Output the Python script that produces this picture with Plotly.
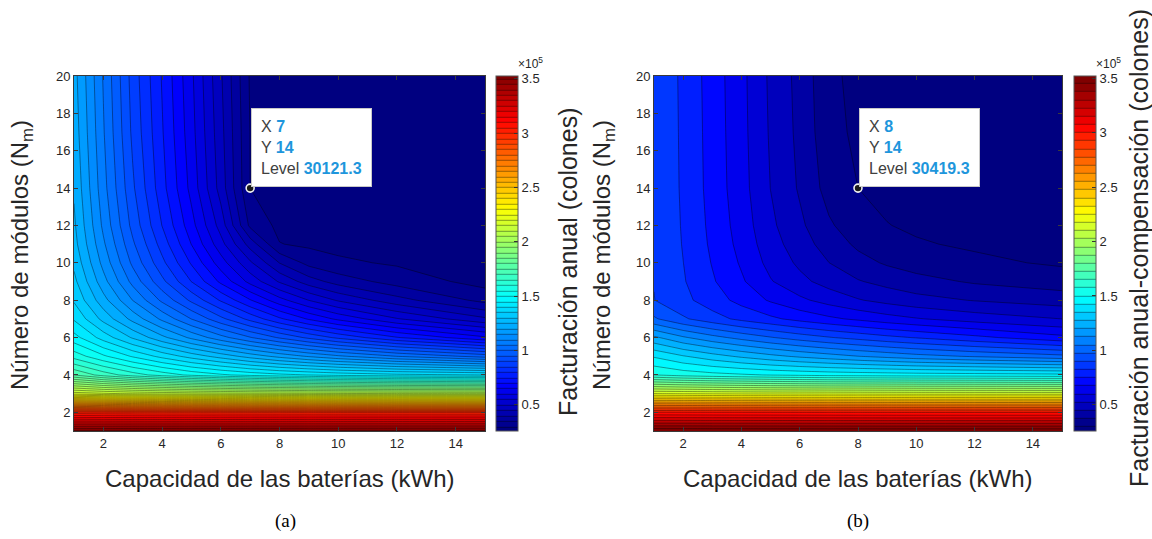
import plotly.graph_objects as go

# ---------------- data ----------------
x_kwh = [1, 2, 3, 4, 5, 6, 7, 8, 9, 10, 12, 15]
y_modules = [1, 2, 3, 4, 5, 6, 7, 8, 9, 10, 11, 12, 14, 17, 20]

# (a) Facturación anual (colones); rows follow y_modules, columns follow x_kwh
z_a = [
    [352000, 352000, 351900, 351900, 351800, 351800, 351700, 351700, 351600, 351600, 351500, 351500],
    [301500, 301000, 300700, 300500, 300400, 300300, 300200, 300100, 300000, 300000, 300000, 300000],
    [218000, 216000, 214500, 213500, 212800, 212200, 211700, 211300, 211000, 210700, 210300, 210000],
    [175000, 168000, 162500, 158000, 154000, 151000, 148500, 146500, 145000, 143500, 141500, 140000],
    [158000, 151000, 144500, 138500, 133000, 128000, 123000, 118500, 114500, 111000, 105000, 98000],
    [147000, 138000, 129500, 121500, 114000, 107000, 100500, 94500, 89000, 84000, 75500, 66000],
    [139500, 128500, 118500, 109000, 100000, 91500, 83500, 76000, 69500, 64000, 55500, 46000],
    [134500, 122000, 110000, 99000, 89000, 79500, 70500, 62000, 55000, 49500, 42000, 33500],
    [131500, 117000, 103500, 91500, 80000, 69000, 58500, 49500, 42500, 38000, 33000, 28300],
    [129000, 113500, 99000, 86500, 74500, 62500, 51000, 40000, 33500, 31000, 29500, 28000],
    [127000, 111000, 96000, 83000, 70000, 57000, 43000, 30300, 29200, 28700, 28200, 27800],
    [126000, 109000, 93500, 80000, 67000, 53000, 34000, 28800, 28500, 28100, 27800, 27600],
    [124500, 107000, 91000, 77000, 63500, 48000, 30121.3, 28600, 28100, 27800, 27500, 27400],
    [123000, 105600, 89000, 75600, 62000, 46800, 30000, 28400, 28000, 27700, 27400, 27200],
    [122000, 104700, 88000, 74700, 61100, 45800, 29500, 28300, 27900, 27600, 27300, 27000],
]

# (b) Facturación anual-compensación (colones)
z_b = [
    [352000, 352000, 351900, 351900, 351800, 351800, 351700, 351700, 351600, 351600, 351500, 351500],
    [301000, 300800, 300600, 300500, 300400, 300300, 300200, 300100, 300000, 300000, 300000, 300000],
    [218000, 217500, 217000, 216500, 216200, 216000, 215800, 215600, 215400, 215200, 215100, 215000],
    [158000, 155000, 153000, 151500, 150000, 149000, 148000, 147500, 147000, 146500, 146000, 145000],
    [142000, 136000, 131000, 126500, 122500, 119000, 116000, 113000, 110500, 108000, 104500, 100000],
    [122000, 114000, 108000, 103000, 98500, 94500, 91000, 88000, 85000, 82500, 77500, 70000],
    [99000, 91500, 86000, 81000, 77000, 73000, 69500, 66500, 63500, 61000, 57000, 52900],
    [90600, 85000, 79000, 73000, 67000, 62000, 57500, 53500, 50500, 48000, 45000, 42000],
    [90200, 83600, 76300, 69000, 61000, 55000, 50000, 46000, 43000, 40500, 37000, 34000],
    [90100, 83000, 75000, 67000, 58000, 51500, 45500, 40500, 37000, 34500, 31800, 29500],
    [90000, 82500, 74000, 65500, 56000, 49000, 42000, 36500, 33000, 31000, 29500, 29000],
    [89900, 82200, 73400, 64500, 54500, 47000, 39000, 33500, 30600, 29500, 28700, 28200],
    [89800, 81800, 72600, 63300, 52800, 44500, 35000, 30419.3, 28800, 28200, 27600, 27200],
    [89700, 81600, 72300, 62800, 52000, 43500, 32800, 29000, 28100, 27600, 27200, 27000],
    [89600, 81400, 72000, 62500, 51500, 43000, 32000, 28500, 27800, 27400, 27000, 26800],
]

# data tips
tip_a = {"x": 7, "y": 14, "level": "30121.3"}
tip_b = {"x": 8, "y": 14, "level": "30419.3"}

# contour levels
levels_a = {"start": 30121.3, "end": 350121.3, "size": 5000}
levels_b = {"start": 30419.3, "end": 352919.3, "size": 7500}

# colour limits and tick labels
z_min, z_max = 26000, 352000
cbar_tickvals = [50000, 100000, 150000, 200000, 250000, 300000, 350000]
cbar_ticktext = ["0.5", "1", "1.5", "2", "2.5", "3", "3.5"]
x_ticks = [2, 4, 6, 8, 10, 12, 14]
y_ticks = [2, 4, 6, 8, 10, 12, 14, 16, 18, 20]

x_title = "Capacidad de las baterías (kWh)"
y_title = "Número de módulos (N<sub>m</sub>)"
cbar_title_a = "Facturación anual (colones)"
cbar_title_b = "Facturación anual-compensación (colones)"

# ---------------- style ----------------
W, H = 1152, 539
SANS = "Liberation Sans, Arial, Helvetica, sans-serif"
SERIF = "Liberation Serif, Times New Roman, serif"
TXT = "#262626"
TIPBLUE = "#1E96DC"

jet = [
    [0.0, "rgb(0,0,128)"],
    [0.125, "rgb(0,0,255)"],
    [0.375, "rgb(0,255,255)"],
    [0.625, "rgb(255,255,0)"],
    [0.875, "rgb(255,0,0)"],
    [1.0, "rgb(128,0,0)"],
]

# pixel geometry
plot_top, plot_bot = 76, 431
ax_a = (74, 485)
ax_b = (654, 1062)
cb_a_left = 496
cb_b_left = 1074


def px(xp):
    return xp / W


def py(yp):
    return 1 - yp / H


fig = go.Figure()


def add_panel(z, levels, xa, ya, cb_left):
    fig.add_trace(go.Contour(
        x=x_kwh, y=y_modules, z=z,
        xaxis=xa, yaxis=ya,
        colorscale=jet, zmin=z_min, zmax=z_max, zauto=False,
        contours=dict(coloring="fill", showlines=True,
                      start=levels["start"], end=levels["end"], size=levels["size"]),
        line=dict(color="rgba(0,0,0,0.65)", width=0.6, smoothing=0),
        colorbar=dict(
            x=px(cb_left), xanchor="left", xpad=0,
            y=py(plot_bot), yanchor="bottom", ypad=0,
            len=(plot_bot - plot_top) / H, lenmode="fraction",
            thickness=22, thicknessmode="pixels",
            tickvals=cbar_tickvals, ticktext=cbar_ticktext,
            ticks="inside", ticklen=4, tickcolor="#333",
            tickfont=dict(family=SANS, size=13, color=TXT),
            outlinewidth=1, outlinecolor="#555",
        ),
        hoverinfo="skip",
    ))


add_panel(z_a, levels_a, "x", "y", cb_a_left)
add_panel(z_b, levels_b, "x2", "y2", cb_b_left)

# data tip markers
for tip, xa, ya in [(tip_a, "x", "y"), (tip_b, "x2", "y2")]:
    fig.add_trace(go.Scatter(
        x=[tip["x"]], y=[tip["y"]], xaxis=xa, yaxis=ya, mode="markers",
        marker=dict(size=8, color="#1a1a1a", line=dict(color="#f0f0f0", width=1.6)),
        showlegend=False, hoverinfo="skip",
    ))

axis_common = dict(
    showgrid=False, zeroline=False, showline=True, mirror="ticks",
    linecolor="#3a3a3a", linewidth=0.8, ticks="inside", ticklen=4,
    tickcolor="#3a3a3a", tickfont=dict(family=SANS, size=13, color=TXT),
)

fig.update_layout(
    width=W, height=H,
    margin=dict(l=0, r=0, t=0, b=0, autoexpand=False),
    paper_bgcolor="white", plot_bgcolor="white",
    showlegend=False,
    xaxis=dict(domain=[px(ax_a[0]), px(ax_a[1])], range=[1, 15], tickvals=x_ticks,
               anchor="y", **axis_common),
    yaxis=dict(domain=[py(plot_bot), py(plot_top)], range=[1, 20], tickvals=y_ticks,
               anchor="x", **axis_common),
    xaxis2=dict(domain=[px(ax_b[0]), px(ax_b[1])], range=[1, 15], tickvals=x_ticks,
                anchor="y2", **axis_common),
    yaxis2=dict(domain=[py(plot_bot), py(plot_top)], range=[1, 20], tickvals=y_ticks,
                anchor="x2", **axis_common),
)

ann = []


def tip_text(tip):
    v = lambda s: f"<b><span style='color:{TIPBLUE}'>{s}</span></b>"
    return f"X {v(tip['x'])}<br>Y {v(tip['y'])}<br>Level {v(tip['level'])}"


for tip, xa, ya in [(tip_a, "x", "y"), (tip_b, "x2", "y2")]:
    ann.append(dict(
        x=tip["x"], y=tip["y"], xref=xa, yref=ya, text=tip_text(tip),
        showarrow=False, xanchor="left", yanchor="bottom", align="left",
        xshift=1, yshift=1,
        font=dict(family=SANS, size=16, color="#404040"),
        bgcolor="white", bordercolor="#c8c8c8", borderwidth=1, borderpad=9,
    ))

for xc, ycb, cbt, cbx, yx, lab, labx in [
    ((ax_a[0] + ax_a[1]) / 2, 262, cbar_title_a, 568, 22, "(a)", 285),
    ((ax_b[0] + ax_b[1]) / 2, 248, cbar_title_b, 1139, 604, "(b)", 858),
]:
    ann.append(dict(x=px(xc), y=py(478), xref="paper", yref="paper", text=x_title,
                    showarrow=False, xanchor="center", yanchor="middle",
                    font=dict(family=SANS, size=24, color=TXT)))
    ann.append(dict(x=px(yx), y=py(255), xref="paper", yref="paper", text=y_title,
                    showarrow=False, xanchor="center", yanchor="middle", textangle=-90,
                    font=dict(family=SANS, size=24, color=TXT)))
    ann.append(dict(x=px(cbx), y=py(ycb), xref="paper", yref="paper", text=cbt,
                    showarrow=False, xanchor="center", yanchor="middle", textangle=-90,
                    font=dict(family=SANS, size=25, color=TXT)))
    ann.append(dict(x=px(labx), y=py(521), xref="paper", yref="paper", text=lab,
                    showarrow=False, xanchor="center", yanchor="middle",
                    font=dict(family=SERIF, size=19, color="black")))

for cbl in (cb_a_left, cb_b_left):
    ann.append(dict(x=px(cbl + 20), y=py(63), xref="paper", yref="paper",
                    text="\u00d710<sup>5</sup>", showarrow=False,
                    xanchor="left", yanchor="middle",
                    font=dict(family=SANS, size=12, color=TXT)))

fig.update_layout(annotations=ann)

fig.write_html("out.html")
